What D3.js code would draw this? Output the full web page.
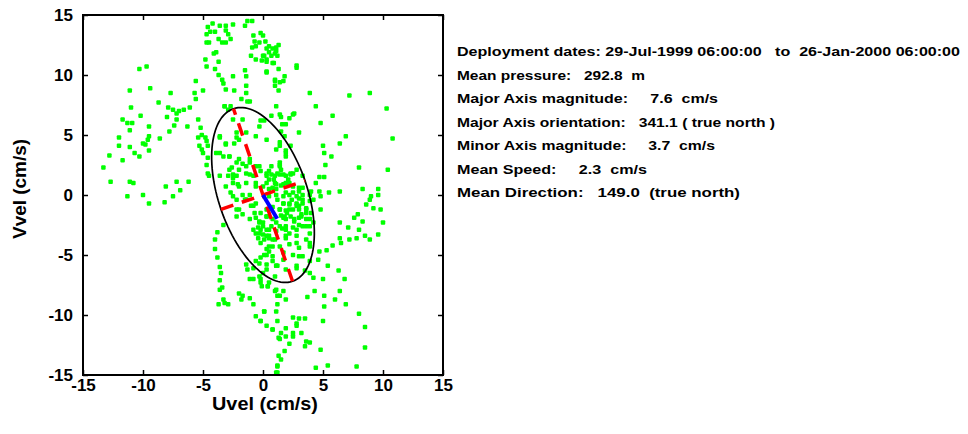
<!DOCTYPE html>
<html>
<head>
<meta charset="utf-8">
<script src="https://cdn.jsdelivr.net/npm/d3@7"></script>
<style>
  html, body { margin: 0; padding: 0; background: #fff; }
  svg { display: block; font-family: "Liberation Sans", Arial, sans-serif; }
  .info text { white-space: pre; }
</style>
</head>
<body>
<svg id="chart" width="968" height="434"></svg>
<script>
// ---------- data ----------
const axisTicks = [-15, -10, -5, 0, 5, 10, 15];
const axisDomain = [-15, 15];

// current velocity observations [Uvel, Vvel] in cm/s
const velocityPoints = [
  [-4.2,14.3],[-4.6,14.0],[-3.6,14.1],[-3.1,14.1],[-2.5,14.2],[-1.5,14.1],[-1.3,14.5],[-0.9,14.5],
  [-4.7,13.4],[-4.4,13.6],[-4.0,13.6],[-3.1,13.7],[-2.9,13.4],[-2.7,13.0],
  [-4.7,12.7],[-4.5,12.7],[-3.7,13.0],[-3.4,12.7],[-3.1,12.7],
  [-0.8,13.3],[-0.2,13.5],[0.0,13.3],[-0.7,12.8],[-0.6,12.4],[-0.3,12.7],[-0.9,12.3],
  [-3.9,11.9],[-4.1,11.8],[-3.7,11.1],[-4.8,11.3],[-4.7,10.7],[-4.0,10.5],
  [-1.0,11.6],[-0.6,11.3],[-0.1,11.2],[0.1,11.6],[0.5,11.9],[0.8,12.2],[1.1,12.3],[0.3,11.1],[0.8,11.0],[1.2,11.6],
  [-1.5,10.4],[-1.4,9.9],[-2.5,9.9],[-3.7,10.0],[-3.4,9.6],[-3.3,9.3],[-3.1,8.8],[-2.4,8.7],[-1.4,9.1],[-1.4,8.5],[-1.8,8.0],[-1.1,7.8],
  [0.3,10.2],[1.0,9.6],[1.3,8.7],
  [-5.6,9.5],[-5.0,8.7],[-5.7,8.5],[-5.6,8.0],[-6.1,7.3],[-7.7,8.5],[-8.7,7.7],[-9.4,8.9],[-11.1,8.7],[-10.3,10.5],[-9.7,10.7],
  [-11.0,7.3],[-10.2,6.6],[-11.7,6.3],[-11.3,6.0],[-10.9,6.0],[-11.1,5.4],[-9.5,5.7],[-9.5,4.9],[-9.6,4.6],[-10.0,4.3],[-9.8,4.2],
  [-10.7,3.5],[-10.3,3.2],[-9.5,3.7],[-8.6,4.7],[-12.0,4.8],[-12.0,4.1],[-11.1,4.0],[-11.7,2.9],[-12.8,3.3],[-13.3,2.3],[-12.7,1.1],[-11.1,1.1],[-10.8,1.0],
  [-7.9,7.3],[-7.5,7.1],[-7.2,6.8],[-7.0,7.0],[-6.6,7.1],[-7.2,6.3],[-8.0,6.5],[-7.4,5.8],[-6.3,5.7],[-7.8,5.3],
  [-5.4,6.3],[-5.2,5.6],[-5.4,4.8],[-5.1,5.0],[-4.8,4.8],[-4.7,4.5],[-5.3,4.1],[-5.1,3.8],[-5.0,3.5],[-4.6,4.1],[-4.6,3.1],[-4.7,2.5],[-4.6,1.8],[-4.5,1.6],
  [-8.1,0.7],[-7.2,1.1],[-6.2,1.1],
  [-0.2,6.2],[0.7,6.6],[1.1,7.4],[-3.2,7.4],[-2.9,7.1],
  [-3.6,4.8],[-3.1,4.2],[-2.4,4.3],[-2.0,4.6],[-2.2,5.2],[-3.6,3.5],[-3.3,3.2],[-2.8,3.2],[-2.2,2.7],[-2.6,2.3],[-1.7,2.6],[-2.8,2.1],
  [-2.9,1.6],[-2.2,1.6],[-1.4,1.8],[-0.8,1.6],[0.3,1.6],[0.9,1.3],[0.3,1.0],[1.1,0.9],[-0.6,1.0],[-2.5,1.0],[-3.1,0.7],[-2.0,0.7],
  [-1.1,3.0],[-0.3,2.4],[0.7,2.4],[1.2,1.8],[1.4,2.7],
  [0.2,12.8],[0.5,12.4],[0.3,12.2],[1.1,12.0],[1.3,12.5],[1.0,11.8],[0.0,11.6],[0.3,11.3],[0.7,11.6],[0.9,11.0],[0.3,10.3],[1.3,10.5],
  [1.8,9.9],[1.7,9.5],[1.0,9.5],[1.0,9.1],[1.4,9.4],[2.8,10.8],[2.8,10.6],
  [3.9,8.5],[4.4,7.4],[5.8,6.6],[7.2,8.3],[8.9,8.5],[10.3,7.2],[10.8,4.7],[4.8,6.0],
  [1.5,6.5],[2.2,6.4],[2.5,6.7],[1.6,5.9],[1.5,5.3],[1.8,4.9],[1.4,4.4],[1.4,4.1],[1.9,3.7],[1.9,3.2],[1.4,2.5],
  [5.0,4.1],[5.1,3.5],[5.7,3.2],[6.4,4.3],[6.9,4.9],[5.2,2.5],[8.0,2.3],[10.4,2.1],[4.7,1.5],[5.1,1.5],
  [-0.2,2.0],[0.3,1.8],[0.7,1.7],[1.0,1.6],[1.4,1.7],[1.9,1.6],[2.3,1.7],[0.5,1.3],[1.0,1.0],[1.7,0.9],[2.2,1.0],[2.5,0.7],[3.3,0.6],
  [0.0,0.7],[0.8,0.6],[1.5,0.8],[8.3,0.5],[9.6,0.5],
  [-11.3,-0.1],[-10.0,0.0],[-9.5,-0.7],[-8.2,-0.6],[-7.5,-0.1],[-6.9,0.4],
  [-1.7,0.0],[-1.4,-0.4],[-2.2,-0.4],[-2.0,-1.2],[-1.0,-0.9],[-0.7,-1.5],[-0.6,-1.9],[-0.2,-1.5],[0.3,-1.8],[-0.3,-2.2],[-0.8,-2.9],
  [-0.2,-2.9],[0.0,-3.3],[-0.4,-3.6],[0.7,-2.6],[1.1,-2.3],
  [-3.3,-2.5],[-3.8,-3.1],[-4.0,-3.7],[-4.0,-4.5],[-3.8,-5.2],[-3.6,-6.0],[-3.5,-6.5],[-3.6,-7.1],[-3.4,-7.7],[-3.6,-7.9],[-3.3,-8.7],
  [-3.7,-9.1],[-2.9,-9.1],[-3.2,-9.0],
  [-2.0,-8.2],[-1.7,-8.4],[-1.8,-8.7],[-1.1,-8.6],[-0.8,-9.1],[-0.6,-10.1],[-0.2,-10.5],[0.3,-10.9],[0.8,-11.2],
  [-1.4,-5.8],[-1.3,-6.2],[-0.8,-6.1],[-0.6,-5.5],[-0.2,-5.2],[0.3,-5.0],[0.5,-4.7],[0.8,-5.5],[1.1,-5.9],[0.3,-6.2],[-0.2,-7.0],
  [-0.8,-7.0],[-0.1,-7.6],[0.4,-7.6],[0.5,-7.3],[1.0,-8.0],[1.2,-8.4],[1.2,-9.1],[0.1,-9.7],[1.3,-11.9],[1.3,-13.4],[1.2,-14.2],[1.1,-14.8],
  [-0.6,-3.2],[0.1,-3.7],[0.5,-3.6],[0.8,-4.3],
  [0.5,-0.1],[1.1,0.0],[1.7,-0.1],[2.2,0.0],[2.8,-0.1],[3.3,0.0],[1.7,-0.7],[2.2,-0.8],[2.8,-0.7],[3.3,-0.7],[3.9,-0.5],
  [1.4,-1.2],[1.9,-1.3],[2.5,-1.2],[3.0,-1.2],[3.6,-1.1],[4.0,-1.5],[0.3,-1.8],[0.8,-2.0],[1.7,-1.9],[2.3,-1.8],[3.0,-1.9],[3.6,-2.0],[4.2,-2.3],
  [0.0,-2.6],[0.5,-2.9],[1.4,-2.6],[1.9,-2.9],[2.5,-2.7],[3.3,-2.6],[3.9,-3.2],[0.3,-3.4],[1.0,-3.7],[1.9,-3.6],[2.8,-3.4],[3.6,-3.7],
  [-0.2,-4.0],[0.5,-4.3],[1.4,-4.3],[2.2,-4.1],[3.0,-4.4],[3.9,-4.3],[0.1,-5.0],[0.8,-5.1],[1.7,-5.4],[2.5,-5.0],[3.3,-5.1],[3.9,-5.5],
  [0.3,-5.8],[1.2,-5.9],[1.9,-6.2],[2.8,-6.1],[3.5,-6.3],[0.0,-6.5],[1.0,-6.8],[-0.2,-7.3],[0.4,-7.6],[1.1,-7.9],
  [4.7,0.3],[4.8,-0.1],[5.5,0.2],[6.4,0.3],[4.8,-1.2],[6.4,-2.3],[7.1,-2.7],[8.0,-2.9],[8.3,-2.2],[7.6,-1.9],[7.9,-1.6],
  [9.0,-0.1],[9.6,0.0],[8.9,-0.4],[8.6,-0.8],[9.2,-1.1],[9.8,-1.2],[10.0,-2.3],[9.6,-3.3],[8.9,-3.7],[8.5,-3.4],[7.8,-3.6],
  [6.4,-3.6],[6.5,-4.0],[7.2,-3.7],[4.7,-4.7],[5.3,-4.6],[5.8,-4.2],[4.6,-5.4],[5.4,-5.9],[6.3,-6.3],[6.8,-7.0],[4.2,-6.9],[5.0,-7.0],
  [1.4,-8.4],[1.9,-8.7],[1.7,-8.0],[3.7,-8.5],[4.3,-8.0],[5.1,-8.4],[6.0,-8.7],[5.1,-9.3],[6.4,-8.0],[6.9,-9.1],[8.0,-9.9],
  [8.5,-11.0],[8.5,-12.7],[7.8,-14.3],[5.4,-14.2],[4.4,-14.4],[4.8,-12.9],
  [0.1,-9.7],[1.1,-9.7],[2.5,-10.2],[3.0,-10.3],[3.5,-10.3],[2.8,-10.7],[-0.2,-10.5],[1.2,-10.5],[1.9,-11.1],[2.8,-10.9],[3.2,-11.5],
  [1.5,-11.5],[1.9,-11.8],[2.5,-11.8],[3.6,-12.2],[3.9,-12.3],[1.4,-12.0],[2.2,-12.4],[1.8,-13.0],[1.5,-13.7],[1.2,-14.3],[1.2,-14.8],
  [3.5,-12.6],[5.0,-10.5],[0.8,-11.2],[2.5,-11.5],
  [-3.2,7.4],[-2.7,7.4],[-1.3,7.8],[-2.5,6.3],[-1.7,6.3],[-0.3,5.7],[0.1,6.2],[1.4,6.7],[1.9,5.9],[2.6,6.8],
  [-3.6,4.9],[-3.1,4.3],[-2.2,4.8],[-1.4,5.2],[-0.6,4.9],[0.3,4.6],[1.1,3.8],[1.9,3.5],[2.3,4.1],[3.0,5.2],
  [-3.9,3.5],[-2.8,3.2],[-2.0,3.0],[-1.1,2.7],[-0.6,2.4],[0.5,2.0],[1.5,2.1],[2.5,1.8],[3.3,1.6],
  [-3.6,1.6],[-2.5,1.4],[-1.4,1.0],[-0.6,0.7],[0.5,0.5],[1.9,1.0],[3.0,0.6],[3.9,0.0],
  [-2.5,-0.1],[-1.4,-0.4],[-0.8,-0.9],[0.3,-1.2],[1.4,-1.2],[2.2,-0.7],[3.0,-0.9],[3.6,-1.5],
  [-2.2,-1.8],[-1.1,-2.0],[0.0,-2.3],[1.9,-2.0],[3.0,-2.5],[3.9,-2.6],
  [-0.3,-3.2],[0.8,-3.7],[1.9,-3.4],[2.8,-4.0],[3.9,-4.0],[0.3,-4.5],[1.7,-4.8],[3.0,-5.1],
  [-0.3,-5.7],[1.1,-5.9],[2.8,-5.9],[3.9,-6.5],[-0.3,-6.8],[-1.1,-7.0],
  [2.0,-1.5],[2.6,-2.2],[3.2,-1.6],[1.2,-0.4],[2.4,-0.4],[3.0,-0.3],[1.6,-2.8],[2.2,-3.2],[0.8,-1.0],[1.5,-1.7],
  [-2.5,1.7],[-2.0,2.1],[-1.4,2.4],[-1.1,1.7],[-2.1,0.9],[-2.7,0.2],[-1.5,-0.4],[-1.1,0.0],[-0.6,-0.7],[-2.2,-1.2],[-1.7,-1.6],
  [1.4,2.4],[1.7,1.7],[2.1,1.3],[2.3,1.8],[2.8,2.1],[1.1,0.5],[1.9,0.2],[2.5,0.2],[3.0,0.3],[3.3,-0.4],[1.7,-0.7],
  [2.2,-1.2],[2.8,-0.9],[3.6,-1.2],[1.8,-1.8],[2.6,-2.0],[3.2,-1.8],[3.9,-2.0],[-0.3,-2.3],[0.3,-2.9],[1.1,-3.0],[1.9,-2.6],
  [2.8,-2.9],[3.6,-2.6],[0.5,-3.4],[-0.4,-2.7],[4.2,-0.4],[4.0,0.3],[4.4,1.0]
];

// principal-axis statistics
const majorMagnitude = 7.6;     // cm/s
const majorOrientation = 341.1; // degrees, true north
const minorMagnitude = 3.7;     // cm/s
const meanSpeed = 2.3;          // cm/s
const meanDirection = 149.0;    // degrees, true north

const infoLines = [
  "Deployment dates: 29-Jul-1999 06:00:00   to  26-Jan-2000 06:00:00",
  "Mean pressure:   292.8  m",
  "Major Axis magnitude:     7.6  cm/s",
  "Major Axis orientation:   341.1 ( true north )",
  "Minor Axis magnitude:     3.7  cm/s",
  "Mean Speed:     2.3  cm/s",
  "Mean Direction:   149.0  (true north)"
];
const infoWidths = [503, 188, 261, 318, 258, 190, 283];

// ---------- layout ----------
const svg = d3.select("#chart");
const plot = { left: 83, right: 443, top: 15, bottom: 375 };

const x = d3.scaleLinear().domain(axisDomain).range([plot.left, plot.right]);
const y = d3.scaleLinear().domain(axisDomain).range([plot.bottom, plot.top]);

svg.append("defs").append("clipPath").attr("id", "clip")
  .append("rect").attr("x", plot.left).attr("y", plot.top)
  .attr("width", plot.right - plot.left).attr("height", plot.bottom - plot.top);

const g = svg.append("g").attr("clip-path", "url(#clip)");

// points
const ps = 4.5;
g.selectAll("rect.pt").data(velocityPoints).join("rect")
  .attr("class", "pt")
  .attr("x", d => x(d[0]) - ps / 2)
  .attr("y", d => y(d[1]) - ps / 2)
  .attr("width", ps).attr("height", ps)
  .attr("rx", 1)
  .attr("fill", "#00ff00");

// ellipse from principal axes (orientation from true north, clockwise)
const rad = Math.PI / 180;
const th = majorOrientation * rad;
const majDir = [Math.sin(th), Math.cos(th)];
const minDir = [Math.cos(th), -Math.sin(th)];
const ellipsePts = d3.range(0, 361, 3).map(a => {
  const t = a * rad;
  const c = majorMagnitude * Math.cos(t), s = minorMagnitude * Math.sin(t);
  return [c * majDir[0] + s * minDir[0], c * majDir[1] + s * minDir[1]];
});
const line = d3.line().x(d => x(d[0])).y(d => y(d[1]));
g.append("path").datum(ellipsePts).attr("d", line)
  .attr("fill", "none").attr("stroke", "#000").attr("stroke-width", 1.7);

// red dashed axes
const axesLines = [
  [[-majorMagnitude * majDir[0], -majorMagnitude * majDir[1]], [majorMagnitude * majDir[0], majorMagnitude * majDir[1]]],
  [[-minorMagnitude * minDir[0], -minorMagnitude * minDir[1]], [minorMagnitude * minDir[0], minorMagnitude * minDir[1]]]
];
g.selectAll("path.axisline").data(axesLines).join("path")
  .attr("class", "axisline")
  .attr("d", line)
  .attr("fill", "none").attr("stroke", "#ff0000").attr("stroke-width", 3.5)
  .attr("stroke-dasharray", "13,9");

// mean velocity vector
const md = meanDirection * rad;
const meanVec = [[0, 0], [meanSpeed * Math.sin(md), meanSpeed * Math.cos(md)]];
g.append("path").datum(meanVec).attr("d", line)
  .attr("fill", "none").attr("stroke", "#0000ff").attr("stroke-width", 4);

// ---------- axes ----------
const fontTick = "17px";
const fmt = d => String(d);
const axB = svg.append("g").attr("transform", `translate(0,${plot.bottom})`)
  .call(d3.axisBottom(x).tickValues(axisTicks).tickFormat(fmt).tickSizeInner(-5).tickSizeOuter(0).tickPadding(4));
const axL = svg.append("g").attr("transform", `translate(${plot.left},0)`)
  .call(d3.axisLeft(y).tickValues(axisTicks).tickFormat(fmt).tickSizeInner(-5).tickSizeOuter(0).tickPadding(10));
const axT = svg.append("g").attr("transform", `translate(0,${plot.top})`)
  .call(d3.axisTop(x).tickValues(axisTicks).tickSizeInner(-5).tickSizeOuter(0).tickFormat(""));
const axR = svg.append("g").attr("transform", `translate(${plot.right},0)`)
  .call(d3.axisRight(y).tickValues(axisTicks).tickSizeInner(-5).tickSizeOuter(0).tickFormat(""));

[axB, axL, axT, axR].forEach(a => {
  a.select(".domain").remove();
  a.selectAll(".tick line").attr("stroke", "#000").attr("stroke-width", 1.5);
  a.selectAll(".tick text").attr("fill", "#000")
    .style("font-size", fontTick).style("font-weight", "bold")
    .style("font-family", "'Liberation Sans', Arial, sans-serif");
});

svg.append("rect")
  .attr("x", plot.left).attr("y", plot.top)
  .attr("width", plot.right - plot.left).attr("height", plot.bottom - plot.top)
  .attr("fill", "none").attr("stroke", "#000").attr("stroke-width", 2);

// axis titles
svg.append("text").text("Uvel (cm/s)")
  .attr("x", (plot.left + plot.right) / 2 + 2).attr("y", 404)
  .attr("text-anchor", "middle").attr("dominant-baseline", "central")
  .attr("textLength", 106).attr("lengthAdjust", "spacingAndGlyphs")
  .style("font-size", "18px").style("font-weight", "bold");
svg.append("text").text("Vvel (cm/s)")
  .attr("transform", "translate(20,189) rotate(-90)")
  .attr("text-anchor", "middle").attr("dominant-baseline", "central")
  .attr("textLength", 100).attr("lengthAdjust", "spacingAndGlyphs")
  .style("font-size", "18px").style("font-weight", "bold");

// ---------- info text ----------
const info = svg.append("g").attr("class", "info");
info.selectAll("text").data(infoLines).join("text")
  .attr("x", 457)
  .attr("y", (d, i) => 51.5 + i * 23.5)
  .attr("dominant-baseline", "central")
  .attr("textLength", (d, i) => infoWidths[i])
  .attr("lengthAdjust", "spacingAndGlyphs")
  .style("font-size", "13px").style("font-weight", "bold")
  .text(d => d);
</script>
</body>
</html>
